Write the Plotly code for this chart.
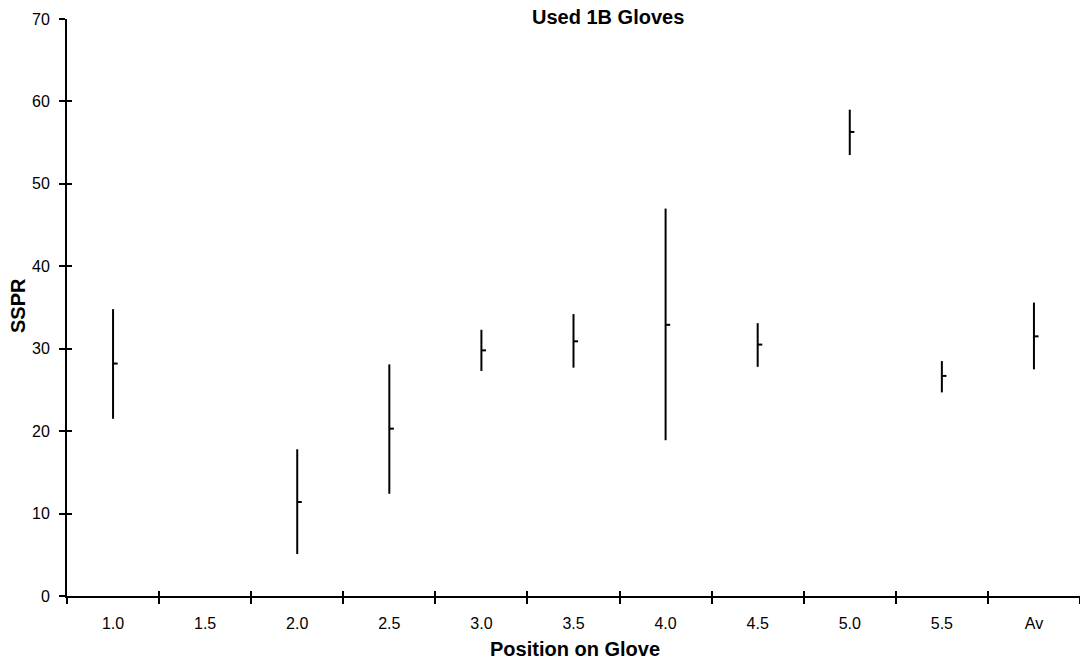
import plotly.graph_objects as go

categories = ["1.0", "1.5", "2.0", "2.5", "3.0", "3.5", "4.0", "4.5", "5.0", "5.5", "Av"]
high = [34.8, None, 17.8, 28.1, 32.3, 34.2, 47.0, 33.1, 59.0, 28.5, 35.6]
low = [21.5, None, 5.1, 12.4, 27.3, 27.7, 18.9, 27.8, 53.5, 24.7, 27.5]
close = [28.2, None, 11.4, 20.3, 29.8, 30.9, 32.9, 30.5, 56.3, 26.7, 31.5]
y_ticks = [0, 10, 20, 30, 40, 50, 60, 70]

FONT = "Liberation Sans, Arial, sans-serif"
TICK_OFF = 0.05  # close-tick length in category units

xs_v, ys_v, xs_c, ys_c = [], [], [], []
for i, (h, l, c) in enumerate(zip(high, low, close)):
    if h is None:
        continue
    xs_v += [i, i, None]
    ys_v += [l, h, None]
    xs_c += [i, i + TICK_OFF, None]
    ys_c += [c, c, None]

n = len(categories)
idx = list(range(n))
bounds = [i - 0.5 for i in range(n + 1)]

fig = go.Figure()
fig.add_trace(go.Scatter(x=xs_v, y=ys_v, mode="lines",
                         line=dict(color="black", width=2), hoverinfo="skip", showlegend=False))
fig.add_trace(go.Scatter(x=xs_c, y=ys_c, mode="lines",
                         line=dict(color="black", width=2), hoverinfo="skip", showlegend=False))
# invisible trace so the overlay axes (inner tick halves) are drawn
fig.add_trace(go.Scatter(x=[None], y=[None], xaxis="x2", yaxis="y2", mode="lines",
                         hoverinfo="skip", showlegend=False))

xr = [-0.5, n - 0.5]
fig.update_layout(
    width=1080, height=664,
    margin=dict(l=67, r=0, t=19, b=68, autoexpand=False),
    plot_bgcolor="white", paper_bgcolor="white",
    font=dict(family=FONT, color="black", size=16),
    showlegend=False,
    xaxis=dict(range=xr, tickmode="array", tickvals=idx, ticktext=categories, automargin=False,
               ticks="", ticklabelstandoff=12, showline=True, linecolor="black", linewidth=2,
               showgrid=False, zeroline=False, tickfont=dict(size=16),
               minor=dict(tickmode="array", tickvals=bounds, ticks="outside", ticklen=6,
                          tickwidth=2, tickcolor="black", showgrid=False)),
    xaxis2=dict(range=xr, overlaying="x", anchor="y", side="bottom", tickmode="array",
                tickvals=bounds, ticks="inside", ticklen=5, tickwidth=2, tickcolor="black",
                automargin=False,
                showticklabels=False, showline=False, showgrid=False, zeroline=False),
    yaxis=dict(range=[0, 70], tickmode="array", tickvals=y_ticks, ticks="outside", ticklen=6,
               tickwidth=2, tickcolor="black", ticklabelstandoff=6, automargin=False,
               showline=True, linecolor="black", linewidth=2, showgrid=False, zeroline=False,
               tickfont=dict(size=16)),
    yaxis2=dict(range=[0, 70], overlaying="y", anchor="x", side="left", tickmode="array",
                tickvals=y_ticks, ticks="inside", ticklen=5, tickwidth=2, tickcolor="black",
                automargin=False,
                showticklabels=False, showline=False, showgrid=False, zeroline=False),
    annotations=[
        dict(text="<b>Used 1B Gloves</b>", x=608, y=17, xref="paper", yref="paper",
             showarrow=False, font=dict(size=20)),
        dict(text="<b>Position on Glove</b>", x=575, y=649, xref="paper", yref="paper",
             showarrow=False, font=dict(size=20)),
        dict(text="<b>SSPR</b>", x=18, y=306, xref="paper", yref="paper",
             showarrow=False, textangle=-90, font=dict(size=20)),
    ],
)

# convert pixel positions of titles to paper coordinates
pw = 1080 - 67
ph = 664 - 19 - 68
for a in fig.layout.annotations:
    px, py = a.x, a.y
    a.x = (px - 67) / pw
    a.y = (664 - 68 - py) / ph
    a.xanchor = "center"
    a.yanchor = "middle"

fig.write_html("out.html", config={"displayModeBar": False},
               post_script="document.body.style.margin='0px';document.body.style.overflow='hidden';")
